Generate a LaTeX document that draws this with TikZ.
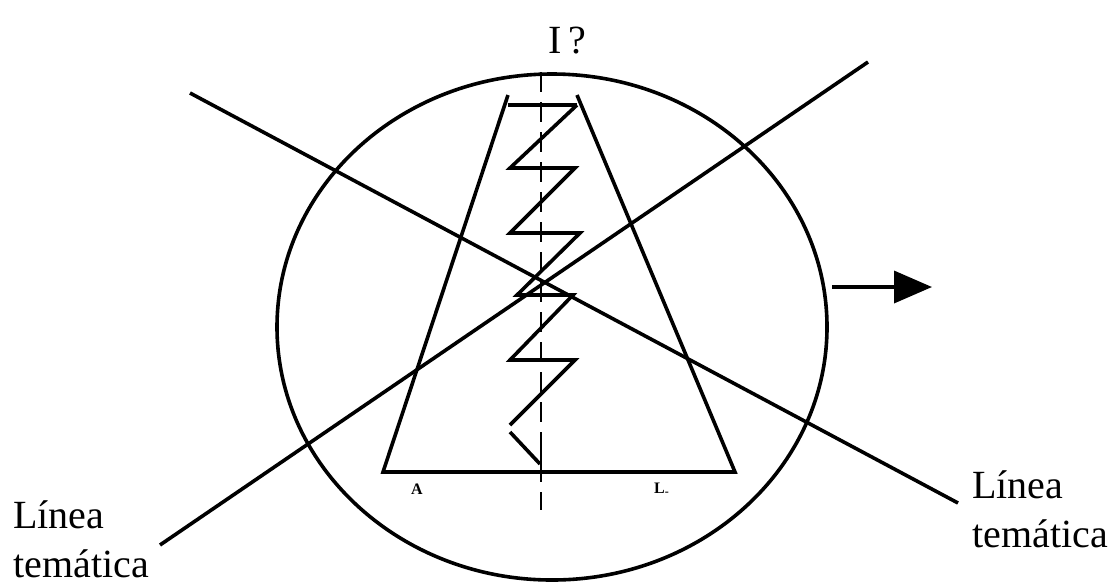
\documentclass[tikz,border=0pt]{standalone}
\usepackage{fontspec}
\setmainfont{Liberation Serif}
\usetikzlibrary{arrows.meta}
\begin{document}
\begin{tikzpicture}[x=0.5pt,y=-0.5pt,
  ln/.style={line width=1.8pt,line join=miter},
  lbl/.style={font=\fontsize{20}{24}\selectfont,inner sep=0pt,align=left},
  tinymark/.style={font=\bfseries\fontsize{8}{9}\selectfont,inner sep=0pt}]
\useasboundingbox (0,0) rectangle (1117,585);
% circle
\draw[ln] (552,327) ellipse [x radius=275, y radius=253];
% dashed axis
\coordinate (axtop) at (541,72);
\coordinate (axbot) at (541,510);
\draw[line width=1.3pt,dash pattern=on 10pt off 5pt] (axtop) -- (axbot);
\draw[line width=1.3pt] (541,445) -- (541,466);
% trapezoid
\coordinate (bl) at (383,472);
\coordinate (br) at (735,472);
\coordinate (tl) at (508,95);
\coordinate (tr) at (577,95);
\draw[ln] (tl) -- (bl) -- (br) -- (tr);
\draw[ln] (508,105) -- (577,105);
% zigzag
\draw[ln] (577,105) -- (510,168) -- (575,168) -- (510,233) -- (580,233)
  -- (517,295) -- (573,295) -- (510,360) -- (575,360) -- (510,425);
\draw[ln] (510,432) -- (540,464);
% crossing lines
\coordinate (a1) at (190,93);
\coordinate (a2) at (958,503);
\coordinate (b1) at (160,545);
\coordinate (b2) at (868,62);
\draw[ln] (a1) -- (a2);
\draw[ln] (b1) -- (b2);
% arrow
\coordinate (arS) at (832,287);
\coordinate (arE) at (932,287);
\draw[ln,-{Triangle[length=19pt,width=16pt]}] (arS) -- (arE);
% texts
\node[lbl,anchor=base] (q) at (567,53) {I\,?};
\node[lbl,anchor=base west] (l1) at (13,528) {Línea};
\node[lbl,anchor=base west] (l2) at (13,577) {temática};
\node[lbl,anchor=base west] (r1) at (972,498) {Línea};
\node[lbl,anchor=base west] (r2) at (972,547) {temática};
\node[tinymark] (ma) at (417,489) {A};
\node[tinymark] (mb) at (662,489) {L\textsubscript{-}};
\end{tikzpicture}
\end{document}
